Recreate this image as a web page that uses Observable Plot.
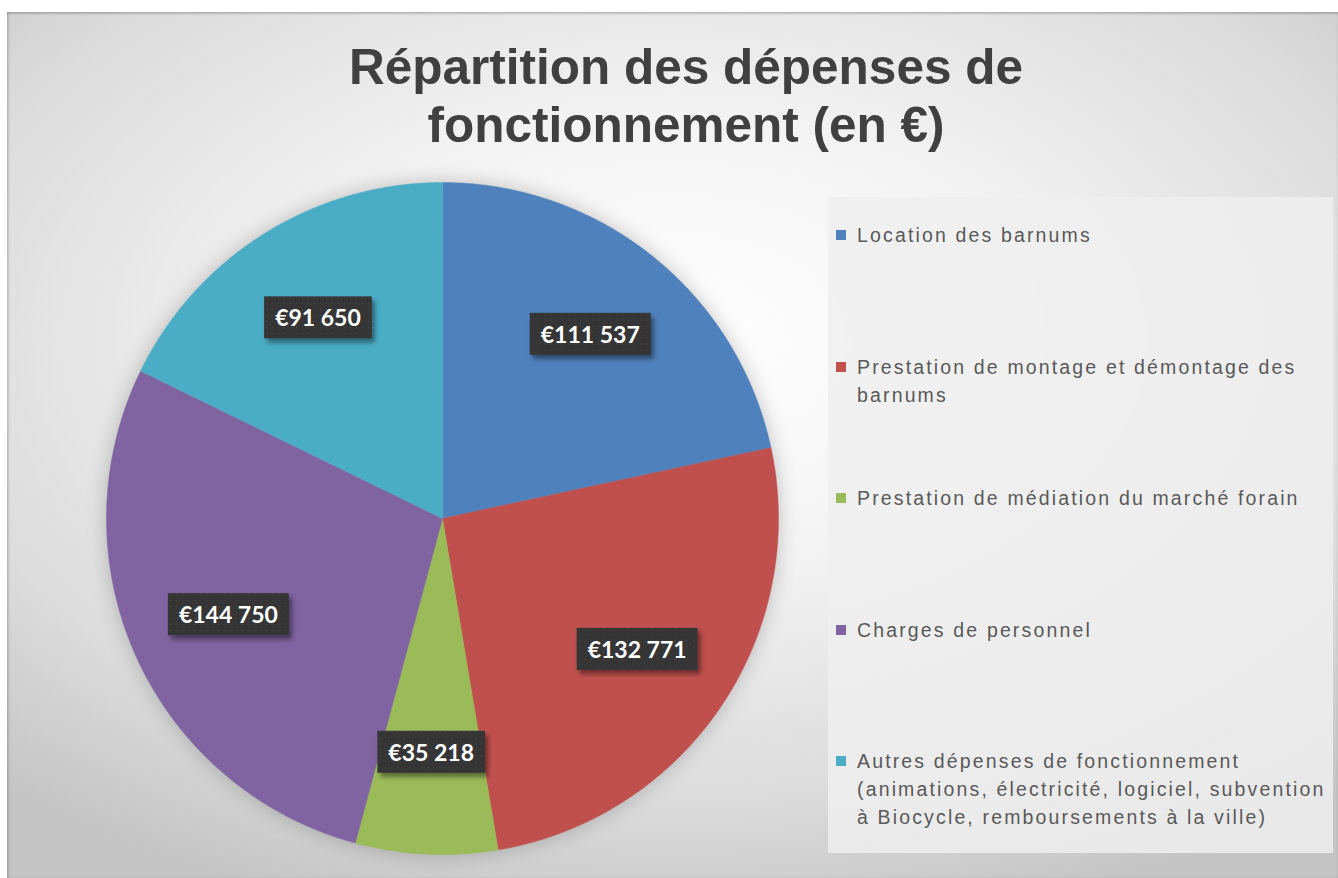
<!DOCTYPE html>
<html>
<head>
<meta charset="utf-8">
<script src="https://cdn.jsdelivr.net/npm/d3@7"></script>
<script src="https://cdn.jsdelivr.net/npm/@observablehq/plot@0.6"></script>
<style>
  html, body { margin: 0; padding: 0; background: #ffffff; }
  #page { position: relative; width: 1338px; height: 878px; overflow: hidden; }
  #frame {
    position: absolute; left: 7px; top: 12px; width: 1331px; height: 866px;
    background: radial-gradient(ellipse 75% 70% at 50% 38%, #ffffff 0%, #f4f4f4 35%, #dcdcdc 75%, #c4c4c4 100%);
    box-shadow: inset 0 2px 2px rgba(0,0,0,0.18), inset 2px 0 2px rgba(0,0,0,0.12);
  }
  #title {
    position: absolute; left: 0; top: 38px; width: 1372px; text-align: center;
    font-family: "Liberation Sans", Arial, sans-serif; font-weight: bold;
    font-size: 49.5px; line-height: 58px; color: #404040;
  }
  #legend {
    position: absolute; left: 828px; top: 197px; width: 505px; height: 656px;
    background: rgba(238,238,238,0.85); box-sizing: border-box; padding-top: 24px;
  }
  .item {
    position: relative; height: 131.5px; padding-left: 29px;
    font-family: "Liberation Sans", Arial, sans-serif; font-size: 19.5px;
    letter-spacing: 2.15px; line-height: 28px; color: #595959; white-space: nowrap;
  }
  .sw { position: absolute; left: 8px; top: 9px; width: 10px; height: 10px; }
  #chart { position: absolute; left: 0; top: 0; }
</style>
</head>
<body>
<div id="page">
  <div id="frame"></div>
  <div id="title">Répartition des dépenses de<br>fonctionnement (en €)</div>
  <div id="legend"></div>
  <div id="chart"></div>
</div>
<script>
// ---- data ----
const categories = [
  "Location des barnums",
  "Prestation de montage et démontage des barnums",
  "Prestation de médiation du marché forain",
  "Charges de personnel",
  "Autres dépenses de fonctionnement (animations, électricité, logiciel, subvention à Biocycle, remboursements à la ville)"
];
const legendLines = [
  ["Location des barnums"],
  ["Prestation de montage et démontage des", "barnums"],
  ["Prestation de médiation du marché forain"],
  ["Charges de personnel"],
  ["Autres dépenses de fonctionnement", "(animations, électricité, logiciel, subvention", "à Biocycle, remboursements à la ville)"]
];
const values = [111537, 132771, 35218, 144750, 91650];
const colors = ["#4F81BD", "#C0504D", "#9BBB59", "#8064A2", "#4BACC6"];

// ---- geometry from data ----
const arcs = d3.pie().sort(null).value(d => d.value)(
  categories.map((name, i) => ({name, value: values[i]}))
);
const slicePoints = [];
arcs.forEach(a => {
  const name = a.data.name;
  slicePoints.push({name, x: 0, y: 0});
  const n = Math.max(2, Math.ceil((a.endAngle - a.startAngle) / 0.005));
  for (let k = 0; k <= n; k++) {
    const t = a.startAngle + (a.endAngle - a.startAngle) * k / n;
    slicePoints.push({name, x: Math.sin(t), y: Math.cos(t)});
  }
});
const fmt = v => "€" + d3.format(",")(v).replace(/,/g, " ");
const labels = arcs.map(a => {
  const m = (a.startAngle + a.endAngle) / 2;
  return {name: a.data.name, x: 0.7 * Math.sin(m), y: 0.7 * Math.cos(m), text: fmt(a.data.value)};
});

// ---- legend ----
const leg = document.getElementById("legend");
legendLines.forEach((lines, i) => {
  const div = document.createElement("div");
  div.className = "item";
  const sw = document.createElement("span");
  sw.className = "sw"; sw.style.background = colors[i];
  div.appendChild(sw);
  lines.forEach((l, j) => {
    if (j) div.appendChild(document.createElement("br"));
    div.appendChild(document.createTextNode(l));
  });
  leg.appendChild(div);
});

// ---- plot ----
const plot = Plot.plot({
  width: 1338, height: 878,
  margin: 0,
  style: {background: "transparent", overflow: "visible"},
  x: {domain: [-1, 1], range: [106, 778], axis: null},
  y: {domain: [-1, 1], range: [854, 182], axis: null},
  color: {domain: categories, range: colors},
  marks: [
    Plot.line(slicePoints, {x: "x", y: "y", z: "name", fill: "name", stroke: "name", strokeWidth: 0.5, curve: "linear-closed"}),
    Plot.text(labels, {x: "x", y: "y", text: "text", fill: "white", fontSize: 23, fontWeight: "bold",
      fontFamily: "Lato, 'Open Sans', sans-serif"})
  ]
});
document.getElementById("chart").appendChild(plot);

// pie soft shadow
const lineG = plot.querySelector("g[aria-label='line']");
if (lineG) lineG.style.filter = "drop-shadow(0px 0px 10px rgba(0,0,0,0.22))";

// label boxes behind text
const ns = "http://www.w3.org/2000/svg";
const defs = document.createElementNS(ns, "defs");
defs.innerHTML = `<pattern id="dots" width="6" height="6" patternUnits="userSpaceOnUse">
  <rect width="6" height="6" fill="#353535"/><rect x="2" y="2" width="1" height="1" fill="#4a4a4a"/></pattern>
  <filter id="sh" x="-20%" y="-20%" width="150%" height="160%">
  <feDropShadow dx="3" dy="4" stdDeviation="2.5" flood-color="#000" flood-opacity="0.45"/></filter>`;
plot.insertBefore(defs, plot.firstChild);
const textG = plot.querySelector("g[aria-label='text']");
if (textG) {
  textG.querySelectorAll("text").forEach(t => {
    const b = t.getBBox();
    const r = document.createElementNS(ns, "rect");
    const px = 11, py = 8;
    r.setAttribute("x", b.x - px);
    r.setAttribute("y", b.y - py + 1);
    r.setAttribute("width", b.width + 2 * px);
    r.setAttribute("height", b.height + 2 * py - 2);
    r.setAttribute("fill", "url(#dots)");
    r.setAttribute("filter", "url(#sh)");
    const tr = t.getAttribute("transform");
    if (tr) r.setAttribute("transform", tr);
    t.parentNode.insertBefore(r, t);
  });
}
</script>
</body>
</html>
